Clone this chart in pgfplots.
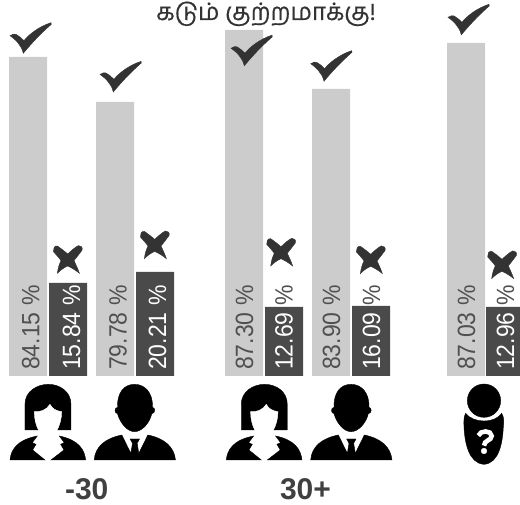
\documentclass[border=0pt]{standalone}
\usepackage{fontspec}
\usepackage{graphicx}
\setmainfont{Liberation Sans}
\newfontfamily\tamilfont[Script=Tamil,FakeBold=0.5]{Hind Madurai}
\usepackage{pgfplots}
\pgfplotsset{compat=1.18}
\definecolor{lightbar}{HTML}{CCCCCC}
\definecolor{darkbar}{HTML}{4A4A4A}
\definecolor{markcol}{HTML}{333333}
\definecolor{txtgray}{HTML}{505050}
\definecolor{headcol}{HTML}{404040}
\pgfdeclareplotmark{okmark}{%
  \begin{scope}[x=1pt,y=-1pt]
  \fill[markcol] (-20.7,-2.3) .. controls (-18,-4) and (-16,-4.3) .. (-14.7,-3.7)
    .. controls (-12,-2) and (-9,0) .. (-6.7,2.7)
    .. controls (-3,-2.5) and (8,-11.5) .. (20.3,-15.3)
    -- (20.6,-13.7)
    .. controls (13,-7) and (4,1.5) .. (-7.4,15.3)
    .. controls (-8.5,11) and (-10,8) .. (-12.4,5.3)
    .. controls (-14.5,2.5) and (-17.5,0) .. (-20.7,-2.3) -- cycle;
  \end{scope}}
\pgfdeclareplotmark{nomark}{%
  \begin{scope}[x=1pt,y=-1pt]
  \fill[markcol] (-10.3,-13.3) .. controls (-7,-11) and (-3,-8) .. (0,-5.3)
    .. controls (3,-8) and (7,-12) .. (10.7,-13.7)
    .. controls (13,-14) and (15.5,-12) .. (14.3,-9)
    .. controls (12,-6) and (9,-2) .. (6.3,1.3)
    .. controls (8,5) and (10,9) .. (11.7,14)
    .. controls (8,11) and (4,8.5) .. (0,6.7)
    .. controls (-4,8.5) and (-7.5,11) .. (-10.3,14)
    .. controls (-9.8,9) and (-8.5,5) .. (-6.7,1.3)
    .. controls (-9,-2) and (-12,-5) .. (-14.3,-7.7)
    .. controls (-15,-10.5) and (-13,-14) .. (-10.3,-13.3) -- cycle;
  \end{scope}}
\pgfdeclareplotmark{woman}{%
  \begin{scope}[x=0.33333pt,y=-0.33333pt]
  \pgftransformshift{\pgfpoint{-43.33pt}{55pt}}
  \fill[black] (60,165) -- (60,88) .. controls (60,50) and (95,28) .. (130,28)
    .. controls (165,28) and (198,50) .. (198,88) -- (198,165) -- cycle;
  \fill[white] (102,168) .. controls (92,150) and (88,130) .. (88,110)
    .. controls (105,112) and (125,105) .. (135,88)
    .. controls (142,102) and (155,108) .. (170,110)
    .. controls (170,130) and (165,150) .. (155,168) -- cycle;
  \fill[black] (15,255) .. controls (18,225) and (35,195) .. (97,183)
    -- (82,203) -- (93,208) -- (83,225) -- (120,255) -- cycle;
  \fill[black] (242,255) .. controls (239,225) and (222,195) .. (163,183)
    -- (178,203) -- (167,208) -- (177,225) -- (138,255) -- cycle;
  \end{scope}}
\pgfdeclareplotmark{man}{%
  \begin{scope}[x=0.33333pt,y=-0.33333pt]
  \pgftransformshift{\pgfpoint{-44.33pt}{55pt}}
  \fill[black] (133,28) .. controls (100,28) and (82,55) .. (82,92) -- (82,97)
    .. controls (72,98) and (72,115) .. (82,116)
    .. controls (90,145) and (112,170) .. (133,170)
    .. controls (155,170) and (178,145) .. (185,116)
    .. controls (196,115) and (196,98) .. (187,97) -- (187,92)
    .. controls (187,55) and (166,28) .. (133,28) -- cycle;
  \fill[black] (12,255) .. controls (15,215) and (45,190) .. (95,180)
    -- (122,235) -- (127,205) -- (120,192) -- (148,192) -- (141,205) -- (146,235)
    -- (173,180) .. controls (222,190) and (252,215) .. (256,255) -- cycle;
  \end{scope}}
\pgfdeclareplotmark{unknown}{%
  \begin{scope}[x=0.33333pt,y=-0.33333pt]
  \pgftransformshift{\pgfpoint{-34pt}{55pt}}
  \fill[black] (102,77) circle [radius=50];
  \fill[black] (47,115) .. controls (40,125) and (42,145) .. (42,155)
    .. controls (44,200) and (55,265) .. (102,268)
    .. controls (148,265) and (158,200) .. (160,155)
    .. controls (162,140) and (162,125) .. (155,115)
    .. controls (145,130) and (125,138) .. (102,138)
    .. controls (80,138) and (58,130) .. (47,115) -- cycle;
  \draw[white,line width=4.6pt] (85,182) .. controls (90,165) and (125,165) .. (125,183)
    .. controls (125,197) and (102,195) .. (102,212);
  \fill[white] (102,228) circle [radius=8.5];
  \end{scope}}
\begin{document}
\begin{tikzpicture}
\useasboundingbox (0,0) rectangle (520pt,504pt);
\begin{axis}[
  hide axis, scale only axis, x=1pt, y=1pt,
  xmin=0, xmax=520, ymin=-128, ymax=376,
]
\addplot[ybar, bar width=38pt, bar shift=0pt, fill=lightbar, draw=none]
  coordinates {(28,319) (115,274) (244,346) (331,287) (466,333)};
\addplot[ybar, bar width=38pt, bar shift=0pt, fill=darkbar, draw=none]
  coordinates {(68,93) (155,104) (284,69) (371,70) (505,69)};
\addplot[only marks, mark=okmark]
  coordinates {(30.7,338) (120.7,299.3) (251.7,325.5) (331.4,310) (468.7,356.4)};
\addplot[only marks, mark=nomark]
  coordinates {(67.7,116.7) (154.7,131.3) (281,124) (370.7,116.4) (502,111.4)};
\addplot[only marks, mark=woman] coordinates {(48.3,-54) (264.6,-54)};
\addplot[only marks, mark=man] coordinates {(134.5,-54) (351,-54)};
\addplot[only marks, mark=unknown] coordinates {(484,-54)};
\def\lab#1#2{\node[inner sep=0pt, rotate=90, anchor=base west, text=txtgray, font=\fontsize{25}{27}\selectfont] at (axis cs:#1,6) {\scalebox{0.92}[1]{#2}};}
\def\labd#1#2{\node[inner sep=0pt, rotate=90, anchor=base west, text=white, font=\fontsize{25}{27}\selectfont] at (axis cs:#1,6) {\scalebox{0.92}[1]{#2}};}
\lab{39.3}{84.15 \%}
\labd{80}{15.84 \%}
\lab{126.5}{79.78 \%}
\labd{166}{20.21 \%}
\lab{253}{87.30 \%}
\labd{292.5}{12.69 {\color{txtgray}\%}}
\lab{340}{83.90 \%}
\labd{380}{16.09 {\color{txtgray}\%}}
\lab{475}{87.03 \%}
\labd{514}{12.96 {\color{txtgray}\%}}
\node[inner sep=0pt, anchor=base, text=markcol, font=\tamilfont\fontsize{24}{27}\selectfont] at (axis cs:266,356) {கடும் குற்றமாக்கு!};
\node[inner sep=0pt, anchor=base, text=headcol, font=\bfseries\fontsize{30}{33}\selectfont] at (axis cs:86.7,-123) {-30};
\node[inner sep=0pt, anchor=base, text=headcol, font=\bfseries\fontsize{30}{33}\selectfont] at (axis cs:305.5,-123) {30+};
\end{axis}
\end{tikzpicture}
\end{document}
